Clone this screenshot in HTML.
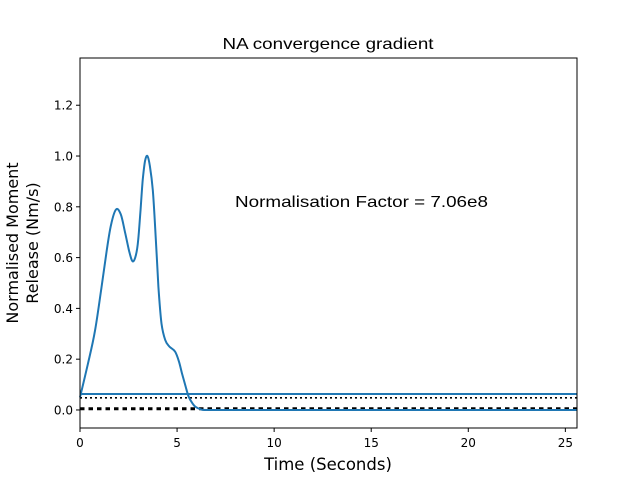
<!DOCTYPE html>
<html><head><meta charset="utf-8"><style>
html,body{margin:0;padding:0;background:#fff;}
svg{display:block;font-family:"DejaVu Sans","Liberation Sans",sans-serif;}
</style></head><body>
<svg id="chart" width="640" height="480" viewBox="0 0 640 480" xmlns="http://www.w3.org/2000/svg">
<rect width="640" height="480" fill="#fff"/>
<text x="328" y="49" text-anchor="middle" font-size="16" font-family="Liberation Sans, sans-serif" textLength="211" lengthAdjust="spacingAndGlyphs">NA convergence gradient</text>
<g id="plot"></g>
<g id="axes"></g>
<text x="235" y="207" font-size="16" font-family="Liberation Sans, sans-serif" textLength="253" lengthAdjust="spacingAndGlyphs">Normalisation Factor = 7.06e8</text>
<text x="328" y="470" text-anchor="middle" font-size="16.5">Time (Seconds)</text>
<text transform="translate(18,243) rotate(-90)" text-anchor="middle" font-size="16"><tspan x="0" dy="0">Normalised Moment</tspan><tspan x="0" dy="20">Release (Nm/s)</tspan></text>
</svg>
<script>
const times=[0,0.4,0.77,1.1,1.38,1.6,1.86,2.1,2.32,2.55,2.72,2.88,3.0,3.12,3.23,3.35,3.47,3.6,3.75,3.9,4.04,4.2,4.39,4.6,4.9,5.1,5.25,5.45,5.6,5.8,5.94,6.2,6.5,10,15,20,25.6];
const values=[0.05,0.18,0.31,0.48,0.63,0.73,0.79,0.77,0.70,0.62,0.585,0.61,0.67,0.79,0.905,0.98,1.0,0.96,0.866,0.68,0.485,0.34,0.276,0.25,0.23,0.19,0.145,0.09,0.052,0.025,0.013,0.003,0.0,0.0,0.0,0.0,0.0];
const refLevels=[0.063,0.048,0.005];
const xTicks=[0,5,10,15,20,25];
const yTicks=[0.0,0.2,0.4,0.6,0.8,1.0,1.2];
const X0=80,X1=577,Y0=58,Y1=428,xmin=0,xmax=25.6,ymin=-0.071,ymax=1.386;
const sx=v=>X0+(v-xmin)/(xmax-xmin)*(X1-X0);
const sy=v=>Y1-(v-ymin)/(ymax-ymin)*(Y1-Y0);
const NS="http://www.w3.org/2000/svg";
const plot=document.getElementById('plot'),axes=document.getElementById('axes');
function mk(tag,attrs,parent){const e=document.createElementNS(NS,tag);for(const k in attrs)e.setAttribute(k,attrs[k]);parent.appendChild(e);return e;}
const styles=[{stroke:"#1f77b4",w:2,dash:""},{stroke:"#000",w:1.6,dash:"2,3"},{stroke:"#000",w:3,dash:"4.5,4"}];
refLevels.forEach((v,i)=>{
  const l=mk('line',{x1:X0,x2:X1,y1:sy(v),y2:sy(v),stroke:styles[i].stroke,'stroke-width':styles[i].w,'stroke-dasharray':styles[i].dash},plot);
  
  
});
const P=times.map((t,i)=>[sx(t),sy(values[i])]);
let d="M"+P[0][0].toFixed(1)+","+P[0][1].toFixed(1);
for(let i=0;i<P.length-1;i++){
  const p0=P[Math.max(0,i-1)],p1=P[i],p2=P[i+1],p3=P[Math.min(P.length-1,i+2)];
  const c1=[p1[0]+(p2[0]-p0[0])/6,p1[1]+(p2[1]-p0[1])/6];
  const c2=[p2[0]-(p3[0]-p1[0])/6,p2[1]-(p3[1]-p1[1])/6];
  c1[0]=Math.min(c1[0],p2[0]);c2[0]=Math.max(c2[0],p1[0]);
  d+=" C"+c1[0].toFixed(1)+","+c1[1].toFixed(1)+" "+c2[0].toFixed(1)+","+c2[1].toFixed(1)+" "+p2[0].toFixed(1)+","+p2[1].toFixed(1);
}
const pl=mk('path',{d:d,fill:"none",stroke:"#1f77b4",'stroke-width':2,'stroke-linejoin':'round'},plot);


const fr=mk('rect',{x:X0,y:Y0,width:X1-X0,height:Y1-Y0,fill:"none",stroke:"#000",'stroke-width':1},axes);


xTicks.forEach(t=>{
  mk('line',{x1:sx(t),x2:sx(t),y1:Y1,y2:Y1+4,stroke:"#000"},axes);
  const tx=mk('text',{x:sx(t),y:Y1+19,'text-anchor':'middle','font-size':12},axes);
  tx.textContent=t;
  
  
});
yTicks.forEach(t=>{
  mk('line',{x1:X0-4,x2:X0,y1:sy(t),y2:sy(t),stroke:"#000"},axes);
  const tx=mk('text',{x:X0-7,y:sy(t)+4.5,'text-anchor':'end','font-size':12},axes);
  tx.textContent=t.toFixed(1);
  
  
});
</script>
</body></html>
